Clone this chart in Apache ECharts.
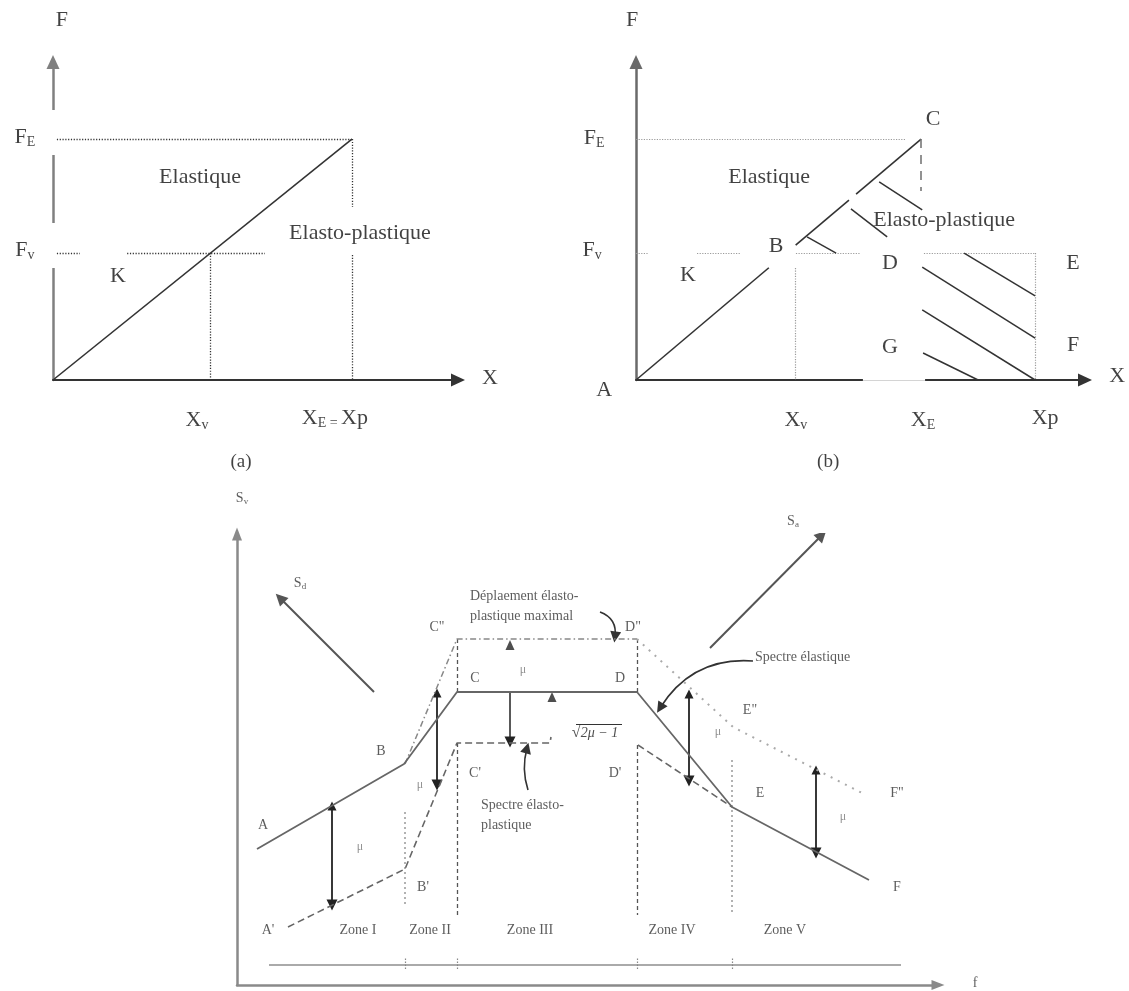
<!DOCTYPE html>
<html>
<head>
<meta charset="utf-8">
<script src="https://cdn.jsdelivr.net/npm/echarts@6.0.0/dist/echarts.min.js"></script>
<style>
  html, body { margin: 0; padding: 0; background: #fff; }
  #chart { width: 1129px; height: 991px; }
</style>
</head>
<body>
<div id="chart"></div>
<script>
// ---------- Panel (a): elastic vs elasto-plastic, equal displacement ----------
const aRange = { x: 13.55, y: 13.2 };
const aLoadLine = [[0, 0], [10, 10]];
const aGuides = [
  [[0.13, 10], [10, 10]],
  [[10, 10], [10, 7.18]],
  [[10, 5.19], [10, 0]],
  [[0.13, 5.27], [0.9, 5.27]],
  [[2.48, 5.27], [7.09, 5.27]],
  [[5.25, 5.27], [5.25, 0]]
];
const aAxisBreaks = [
  [[0, 11.21], [0, 9.34]],
  [[0, 6.52], [0, 4.65]]
];
const aLabels = [
  [0.3, 14.94, 'F'],
  [14.62, 0.08, 'X'],
  [-0.94, 10.09, 'F{s|E}'],
  [-0.94, 5.4, 'F{s|v}'],
  [4.92, 8.43, 'Elastique'],
  [10.27, 6.1, 'Elasto-plastique'],
  [2.17, 4.32, 'K'],
  [4.82, -1.66, 'X{s|v}'],
  [9.43, -1.58, 'X{s|E = }Xp'],
  [6.29, -3.4, '{p|(a)}']
];

// ---------- Panel (b): equal energy ----------
const bRange = { x: 15.75, y: 13.2 };
const bLoadSegments = [
  [[0, 0], [4.66, 4.66]],
  [[5.6, 5.6], [7.47, 7.47]],
  [[7.72, 7.72], [10, 10]]
];
const bDrop = [[[10, 10], [10, 7.85]]];
const bGuides = [
  [[0, 10], [9.44, 10]],
  [[0, 5.27], [0.42, 5.27]],
  [[2.14, 5.27], [3.65, 5.27]],
  [[5.61, 5.27], [7.86, 5.27]],
  [[10.1, 5.27], [14, 5.27]],
  [[5.58, 4.65], [5.58, 0]],
  [[14, 5.27], [14, 0]]
];
const bHatch = [
  [[8.53, 8.22], [10.04, 7.06]],
  [[7.54, 7.10], [8.81, 5.94]],
  [[6.0, 5.94], [7.02, 5.27]],
  [[11.51, 5.27], [14, 3.49]],
  [[10.04, 4.69], [14, 1.74]],
  [[10.04, 2.91], [14, 0]],
  [[10.07, 1.12], [12.0, 0]]
];
const bAxisFaint = [[[7.96, 0], [10.14, 0]]];
const bLabels = [
  [-0.14, 14.94, 'F'],
  [16.88, 0.17, 'X'],
  [-1.47, 10.05, 'F{s|E}'],
  [-1.54, 5.4, 'F{s|v}'],
  [10.42, 10.83, 'C'],
  [4.67, 8.43, 'Elastique'],
  [10.81, 6.64, 'Elasto-plastique'],
  [4.91, 5.56, 'B'],
  [1.82, 4.36, 'K'],
  [8.91, 4.86, 'D'],
  [15.33, 4.86, 'E'],
  [8.91, 1.37, 'G'],
  [15.33, 1.45, 'F'],
  [-1.12, -0.42, 'A'],
  [5.61, -1.66, 'X{s|v}'],
  [10.07, -1.66, 'X{s|E}'],
  [14.35, -1.58, 'Xp'],
  [6.74, -3.4, '{p|(b)}']
];

// ---------- Panel (c): elastic and elasto-plastic spectra ----------
const cRange = { x: 70.1, y: 45.1 };
const cElastic = [[2.0, 13.6], [16.7, 22.1], [22.0, 29.3], [40.0, 29.3], [49.5, 17.8], [63.2, 10.5]];
const cPlasticLeft = [[5.1, 5.8], [16.8, 11.6], [22.0, 24.2], [31.3, 24.2], [31.4, 24.8]];
const cPlasticRight = [[40.1, 24.0], [49.5, 17.8]];
const cMaxRise = [[16.8, 22.1], [22.0, 34.6], [40.0, 34.6]];
const cMaxFall = [[40.0, 34.6], [49.6, 25.8], [62.5, 19.2]];
const cZoneDashed = [
  [[22.0, 34.6], [22.0, 29.3]],
  [[22.0, 24.2], [22.0, 7.0]],
  [[40.0, 34.6], [40.0, 29.3]],
  [[40.0, 24.0], [40.0, 7.0]]
];
const cZoneDotted = [
  [[16.8, 17.3], [16.8, 7.8]],
  [[49.5, 22.5], [49.5, 7.0]]
];
const cBaseline = [[[3.2, 2.0], [66.4, 2.0]]];
const cBaseTicks = [16.8, 22.0, 40.0, 49.5];
const cMuArrows = [
  [[9.5, 17.9], [9.5, 8.0]],
  [[20.0, 29.2], [20.0, 20.0]],
  [[45.2, 29.1], [45.2, 20.4]],
  [[57.9, 21.5], [57.9, 13.2]]
];
const cDownArrow = [[[27.3, 29.3], [27.3, 24.3]]];
const cUpHeads = [[27.3, 34.0], [31.5, 28.8]];
const cDirections = [
  [[13.7, 29.3], [4.3, 38.7]],
  [[47.3, 33.7], [58.5, 45.0]]
];
const cCallouts = [
  [[36.3, 37.3], [37.8, 34.8]],
  [[51.6, 32.4], [42.3, 27.7]],
  [[29.1, 19.5], [29.0, 23.7]]
];
const cCalloutBend = [0.4, -0.3, 0.15];
const cRadicalBar = [[[33.9, 26.1], [38.5, 26.1]]];
const cLabels = [
  [0.5, 48.7, 'S{s|v}'],
  [6.3, 40.2, 'S{s|d}'],
  [55.6, 46.4, 'S{s|a}'],
  [20.0, 35.8, 'C"'],
  [39.6, 35.8, 'D"'],
  [28.6, 31.5, '{m|μ}'],
  [23.8, 30.7, 'C'],
  [38.3, 30.7, 'D'],
  [35.8, 25.2, '{r|√}{i|2μ − 1}'],
  [14.4, 23.4, 'B'],
  [23.8, 21.2, "C'"],
  [37.8, 21.2, "D'"],
  [18.3, 20.0, '{m|μ}'],
  [2.6, 16.0, 'A'],
  [12.3, 13.8, '{m|μ}'],
  [18.6, 9.8, "B'"],
  [3.1, 5.5, "A'"],
  [12.1, 5.5, 'Zone I'],
  [19.3, 5.5, 'Zone II'],
  [29.3, 5.5, 'Zone III'],
  [43.5, 5.5, 'Zone IV'],
  [54.8, 5.5, 'Zone V'],
  [51.3, 27.5, 'E"'],
  [48.1, 25.3, '{m|μ}'],
  [52.3, 19.2, 'E'],
  [66.0, 19.2, 'F"'],
  [60.6, 16.8, '{m|μ}'],
  [66.0, 9.8, 'F'],
  [73.8, 0.2, 'f']
];
const cNotes = [
  [23.3, 37.9, 'Déplaement élasto-\nplastique maximal'],
  [24.4, 17.0, 'Spectre élasto-\nplastique'],
  [51.8, 32.8, 'Spectre élastique']
];

// ---------- helpers ----------
const SERIF = 'Liberation Serif';

function axes(gridIndex, range, xColor, yColor, head) {
  const base = {
    type: 'value', gridIndex, min: 0,
    axisTick: { show: false }, axisLabel: { show: false }, splitLine: { show: false }
  };
  return {
    x: Object.assign({}, base, {
      max: range.x,
      axisLine: { show: true, onZero: false, symbol: ['none', 'triangle'], symbolSize: head,
        lineStyle: { color: xColor.c, width: xColor.w } }
    }),
    y: Object.assign({}, base, {
      max: range.y,
      axisLine: { show: true, onZero: false, symbol: ['none', 'triangle'], symbolSize: head,
        lineStyle: { color: yColor.c, width: yColor.w } }
    })
  };
}

function segs(idx, list, lineStyle, extra) {
  return Object.assign({
    type: 'lines', coordinateSystem: 'cartesian2d', xAxisIndex: idx, yAxisIndex: idx,
    polyline: false, silent: true, animation: false,
    lineStyle: Object.assign({ opacity: 1, curveness: 0 }, lineStyle),
    data: list.map(c => ({ coords: c }))
  }, extra || {});
}

function poly(idx, pts, lineStyle) {
  return {
    type: 'line', xAxisIndex: idx, yAxisIndex: idx, data: pts,
    showSymbol: false, silent: true, animation: false, lineStyle
  };
}

function texts(idx, list, font, rich, position) {
  return {
    type: 'scatter', xAxisIndex: idx, yAxisIndex: idx, symbolSize: 0, clip: false,
    silent: true, animation: false,
    label: {
      show: true, position: position || 'inside', distance: 0,
      fontFamily: SERIF, fontSize: font.size, color: font.color, lineHeight: font.lh,
      rich
    },
    data: list.map(([x, y, t]) => ({ value: [x, y], label: { formatter: t } }))
  };
}

const topRich = {
  s: { fontFamily: SERIF, fontSize: 14, color: '#111', padding: [10, 0, 0, 0] },
  p: { fontFamily: SERIF, fontSize: 19, color: '#111' }
};
const lowRich = {
  s: { fontFamily: SERIF, fontSize: 9, color: '#333', padding: [7, 0, 0, 0] },
  m: { fontFamily: SERIF, fontSize: 12, color: '#777' },
  r: { fontFamily: SERIF, fontSize: 16, color: '#222' },
  i: { fontFamily: SERIF, fontSize: 14, color: '#222', fontStyle: 'italic' }
};

const A = axes(0, aRange, { c: '#333', w: 2 }, { c: '#808080', w: 2.5 }, [13, 14]);
const B = axes(1, bRange, { c: '#333', w: 2 }, { c: '#6a6a6a', w: 2.5 }, [13, 14]);
const C = axes(2, cRange, { c: '#8a8a8a', w: 2.5 }, { c: '#8a8a8a', w: 2.5 }, [10, 13]);

const option = {
  backgroundColor: '#fff',
  animation: false,
  grid: [
    { left: 53, top: 62, width: 405, height: 318 },
    { left: 636, top: 62, width: 449, height: 318 },
    { left: 237, top: 534, width: 701, height: 451 }
  ],
  xAxis: [A.x, B.x, C.x],
  yAxis: [A.y, B.y, C.y],
  series: [
    // panel (a)
    segs(0, aAxisBreaks, { color: '#fff', width: 5 }),
    segs(0, aGuides, { color: '#333', width: 1.3, type: [1.2, 1.6] }),
    poly(0, aLoadLine, { color: '#333', width: 1.6 }),
    texts(0, aLabels, { size: 22, color: '#111' }, topRich),

    // panel (b)
    segs(1, bAxisFaint, { color: '#fff', width: 4 }),
    segs(1, bAxisFaint, { color: '#aaa', width: 1 }),
    segs(1, bGuides, { color: '#9a9a9a', width: 1.2, type: [1.2, 1.4] }),
    segs(1, bLoadSegments, { color: '#333', width: 1.6 }),
    segs(1, bDrop, { color: '#777', width: 1.6, type: [9, 7] }),
    segs(1, bHatch, { color: '#333', width: 1.5 }),
    texts(1, bLabels, { size: 22, color: '#111' }, topRich),

    // panel (c)
    segs(2, cBaseline, { color: '#aaa', width: 2 }),
    segs(2, cBaseTicks.map(x => [[x, 1.6], [x, 2.7]]), { color: '#888', width: 1.2, type: [1.5, 1.5] }),
    segs(2, cZoneDashed, { color: '#555', width: 1.3, type: [4, 3] }),
    segs(2, cZoneDotted, { color: '#999', width: 1.5, type: [2, 3] }),
    poly(2, cMaxRise, { color: '#888', width: 1.5, type: [6, 3, 1.5, 3] }),
    poly(2, cMaxFall, { color: '#aaa', width: 2, type: [2, 6] }),
    poly(2, cPlasticLeft, { color: '#666', width: 1.6, type: [7, 4] }),
    poly(2, cPlasticRight, { color: '#666', width: 1.6, type: [7, 4] }),
    poly(2, cElastic, { color: '#666', width: 1.8 }),
    segs(2, cMuArrows, { color: '#222', width: 1.8 }, { symbol: ['triangle', 'triangle'], symbolSize: [9, 11] }),
    segs(2, cDownArrow, { color: '#222', width: 1.5 }, { symbol: ['none', 'triangle'], symbolSize: [9, 11] }),
    segs(2, cDirections, { color: '#555', width: 2 }, { symbol: ['none', 'triangle'], symbolSize: [10, 12] }),
    {
      type: 'lines', coordinateSystem: 'cartesian2d', xAxisIndex: 2, yAxisIndex: 2,
      silent: true, animation: false, symbol: ['none', 'triangle'], symbolSize: [9, 11],
      lineStyle: { color: '#333', width: 1.6, opacity: 1 },
      data: cCallouts.map((c, i) => ({ coords: c, lineStyle: { curveness: cCalloutBend[i] } }))
    },
    segs(2, cRadicalBar, { color: '#333', width: 1.2 }),
    {
      type: 'scatter', xAxisIndex: 2, yAxisIndex: 2, silent: true, animation: false,
      symbol: 'triangle', symbolSize: [9, 10], itemStyle: { color: '#222' }, data: cUpHeads
    },
    texts(2, cLabels, { size: 14, color: '#333' }, lowRich),
    texts(2, cNotes, { size: 14, color: '#333', lh: 20 }, lowRich, 'right')
  ]
};

const chart = echarts.init(document.getElementById('chart'), null, { renderer: 'canvas' });
chart.setOption(option);
</script>
</body>
</html>
